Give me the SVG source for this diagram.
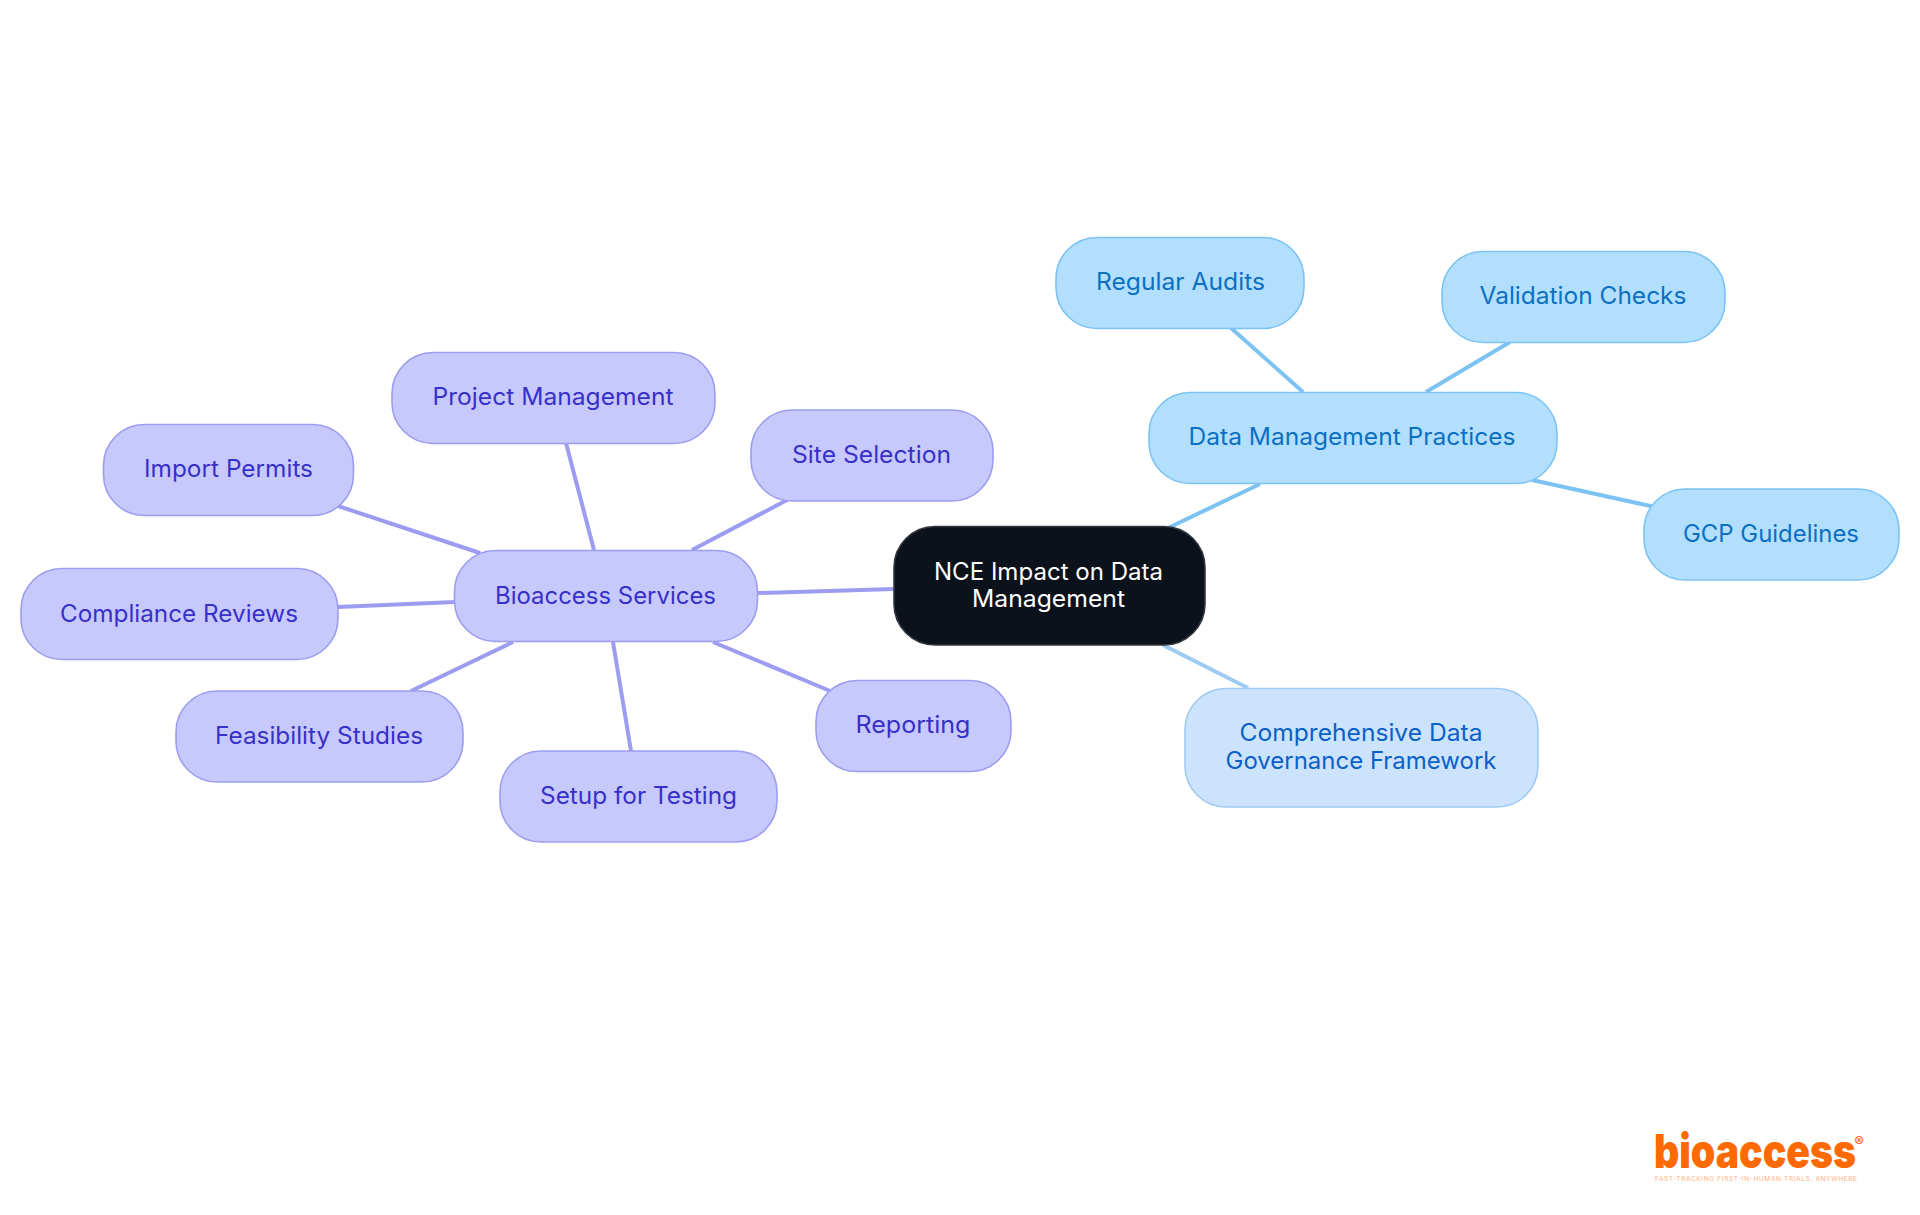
<svg xmlns="http://www.w3.org/2000/svg" width="1920" height="1215" viewBox="0 0 1920 1215">
<style>
text{font-family:"Inter","Noto Sans","Liberation Sans",sans-serif;font-size:24px;text-anchor:middle;font-weight:400}
rect{stroke-width:1.6}
.edges line{stroke-width:4;fill:none}
.p{stroke:#9c9df0}.b{stroke:#7cc3f3}.c{stroke:#9fcbf3}
rect.p{fill:#c7c9fd}rect.b{fill:#b3dfff}rect.c{fill:#cce3fd}
text.p{fill:#3730c9;stroke:none}text.b{fill:#0b70c2;stroke:none}text.c{fill:#0b60c8;stroke:none}
.logo{fill:#ff6a00;font-family:"Inter","Liberation Sans",sans-serif;text-anchor:start}
</style>
<rect width="1920" height="1215" fill="#fff" stroke="none"/>
<g id="connectors" class="edges">
<line class="p" x1="758" y1="593" x2="894" y2="589"/>
<line class="b" x1="1167" y1="528.500" x2="1260" y2="484"/>
<line class="c" x1="1163" y1="645" x2="1248" y2="688"/>
<line class="b" x1="1231" y1="328" x2="1303" y2="392"/>
<line class="b" x1="1426" y1="392" x2="1510" y2="342"/>
<line class="b" x1="1532" y1="480" x2="1655" y2="507"/>
<line class="p" x1="692" y1="550" x2="788" y2="499.500"/>
<line class="p" x1="594" y1="550" x2="566" y2="443"/>
<line class="p" x1="480" y1="553" x2="335" y2="505"/>
<line class="p" x1="455" y1="602" x2="338" y2="607"/>
<line class="p" x1="513" y1="642" x2="411" y2="691"/>
<line class="p" x1="613" y1="642" x2="631" y2="751"/>
<line class="p" x1="713" y1="642" x2="835" y2="693"/>
</g>
<g id="root"><rect x="894" y="526.500" width="311" height="118.500" rx="41" fill="#0c121c" stroke="#33373f"/>
<text x="1048.500" y="580" fill="#fff" textLength="229" lengthAdjust="spacingAndGlyphs">NCE Impact on Data</text>
<text x="1048.500" y="607" fill="#fff" textLength="153" lengthAdjust="spacingAndGlyphs">Management</text></g>
<g id="bioaccess"><rect class="p" x="454.500" y="550.500" width="303" height="91" rx="41"/><text class="p" x="605.500" y="604" textLength="221" lengthAdjust="spacingAndGlyphs">Bioaccess Services</text></g>
<g id="site"><rect class="p" x="751" y="410" width="242" height="91" rx="41"/><text class="p" x="871.500" y="463" textLength="159" lengthAdjust="spacingAndGlyphs">Site Selection</text></g>
<g id="project"><rect class="p" x="392" y="352.500" width="323" height="91" rx="41"/><text class="p" x="553" y="405" textLength="241" lengthAdjust="spacingAndGlyphs">Project Management</text></g>
<g id="import"><rect class="p" x="103.500" y="424.500" width="250" height="91" rx="41"/><text class="p" x="228.500" y="477" textLength="169" lengthAdjust="spacingAndGlyphs">Import Permits</text></g>
<g id="compliance"><rect class="p" x="21" y="568.500" width="317" height="91" rx="41"/><text class="p" x="179" y="622" textLength="238" lengthAdjust="spacingAndGlyphs">Compliance Reviews</text></g>
<g id="feasibility"><rect class="p" x="176" y="691" width="287" height="91" rx="41"/><text class="p" x="319" y="744" textLength="208" lengthAdjust="spacingAndGlyphs">Feasibility Studies</text></g>
<g id="setup"><rect class="p" x="500" y="751" width="277" height="91" rx="41"/><text class="p" x="638.500" y="804" textLength="197" lengthAdjust="spacingAndGlyphs">Setup for Testing</text></g>
<g id="reporting"><rect class="p" x="816" y="680.500" width="195" height="91" rx="41"/><text class="p" x="913" y="733" textLength="115" lengthAdjust="spacingAndGlyphs">Reporting</text></g>
<g id="data"><rect class="b" x="1149" y="392.500" width="408" height="91" rx="41"/><text class="b" x="1352" y="445" textLength="327" lengthAdjust="spacingAndGlyphs">Data Management Practices</text></g>
<g id="audits"><rect class="b" x="1056" y="237.500" width="248" height="91" rx="41"/><text class="b" x="1180.500" y="290" textLength="169" lengthAdjust="spacingAndGlyphs">Regular Audits</text></g>
<g id="validation"><rect class="b" x="1442" y="251.500" width="283" height="91" rx="41"/><text class="b" x="1583" y="304" textLength="207" lengthAdjust="spacingAndGlyphs">Validation Checks</text></g>
<g id="gcp"><rect class="b" x="1644" y="489" width="255" height="91" rx="41"/><text class="b" x="1771" y="542" textLength="176" lengthAdjust="spacingAndGlyphs">GCP Guidelines</text></g>
<g id="comprehensive"><rect class="c" x="1185" y="688.500" width="353" height="118.500" rx="41"/>
<text class="c" x="1361" y="741" textLength="243" lengthAdjust="spacingAndGlyphs">Comprehensive Data</text>
<text class="c" x="1361" y="769" textLength="271" lengthAdjust="spacingAndGlyphs">Governance Framework</text></g>
<g id="logo">
<text class="logo" x="1654" y="1168" style="font-size:47px;font-weight:900" textLength="202" lengthAdjust="spacingAndGlyphs">bioaccess</text>
<text class="logo" x="1854.500" y="1147" style="font-size:14px;font-weight:700">®</text>
<text class="logo" x="1655" y="1181" style="font-size:6.500px;fill:#ffb080" textLength="202" lengthAdjust="spacing">FAST-TRACKING FIRST-IN-HUMAN TRIALS, ANYWHERE</text>
</g>
</svg>
